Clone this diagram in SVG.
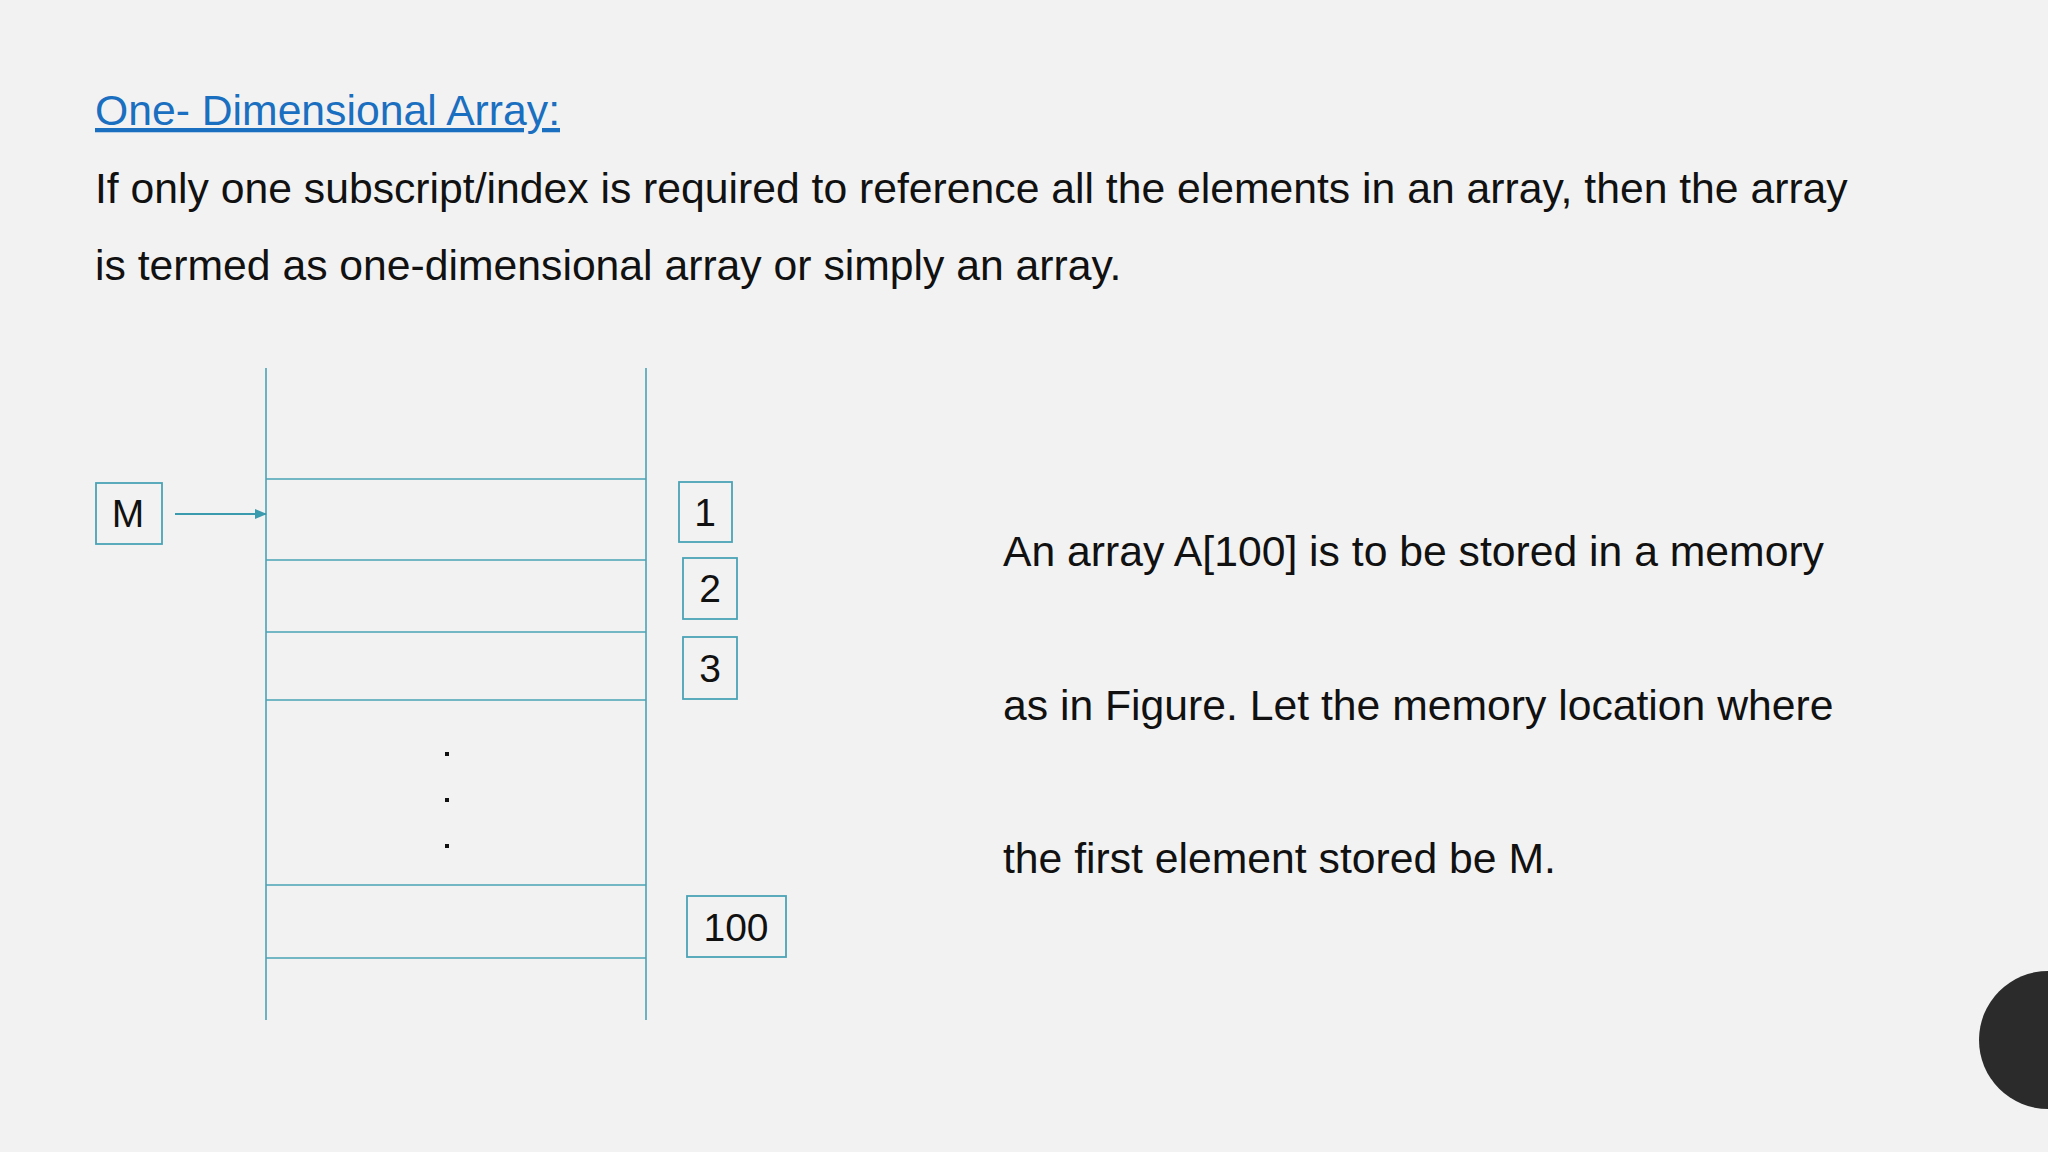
<svg xmlns="http://www.w3.org/2000/svg" width="2048" height="1152" viewBox="0 0 2048 1152">
<defs>
<style>
text{font-family:"Liberation Sans",Arial,sans-serif;fill:#111}
.b{font-size:42.7px}
.ln{stroke:#4aa3b5;stroke-width:1.6;fill:none}
.bx{stroke:#4aa3b5;stroke-width:1.8;fill:none}
.l{font-size:39px;text-anchor:middle}
</style>
<marker id="ah" markerWidth="12" markerHeight="10" refX="11" refY="5" orient="auto" markerUnits="userSpaceOnUse"><path d="M0,0 L12,5 L0,10 Z" fill="#3a9aae"/></marker>
</defs>
<rect width="2048" height="1152" fill="#f3f2f2"/>
<text x="95" y="125" style="font-size:42.7px;fill:#1a6fc0;text-decoration:underline">One- Dimensional Array:</text>
<text class="b" x="95" y="203">If only one subscript/index is required to reference all the elements in an array, then the array</text>
<text class="b" x="95" y="280">is termed as one-dimensional array or simply an array.</text>
<g id="memory">
<line class="ln" x1="266" y1="368" x2="266" y2="1020"/>
<line class="ln" x1="646" y1="368" x2="646" y2="1020"/>
<line class="ln" x1="266" y1="479" x2="646" y2="479"/>
<line class="ln" x1="266" y1="560" x2="646" y2="560"/>
<line class="ln" x1="266" y1="632" x2="646" y2="632"/>
<line class="ln" x1="266" y1="700" x2="646" y2="700"/>
<line class="ln" x1="266" y1="885" x2="646" y2="885"/>
<line class="ln" x1="266" y1="958" x2="646" y2="958"/>
<rect x="445" y="752" width="4" height="4" fill="#111"/>
<rect x="445" y="798" width="4" height="4" fill="#111"/>
<rect x="445" y="844" width="4" height="4" fill="#111"/>
</g>
<g id="M"><rect class="bx" x="96" y="483" width="66" height="61"/><text class="l" x="128" y="527">M</text></g>
<g id="n1"><rect class="bx" x="679" y="482" width="53" height="60"/><text class="l" x="705" y="526">1</text></g>
<g id="n2"><rect class="bx" x="683" y="558" width="54" height="61"/><text class="l" x="710" y="602">2</text></g>
<g id="n3"><rect class="bx" x="683" y="637" width="54" height="62"/><text class="l" x="710" y="682">3</text></g>
<g id="n100"><rect class="bx" x="687" y="896" width="99" height="61"/><text class="l" x="736" y="941">100</text></g>
<g id="connectors"><line x1="175" y1="514" x2="266" y2="514" stroke="#3a9aae" stroke-width="1.8" marker-end="url(#ah)"/></g>
<text class="b" x="1003" y="566">An array A[100] is to be stored in a memory</text>
<text class="b" x="1003" y="720">as in Figure. Let the memory location where</text>
<text class="b" x="1003" y="873">the first element stored be M.</text>
<circle cx="2048" cy="1040" r="69" fill="#2b2b2b"/>
</svg>
